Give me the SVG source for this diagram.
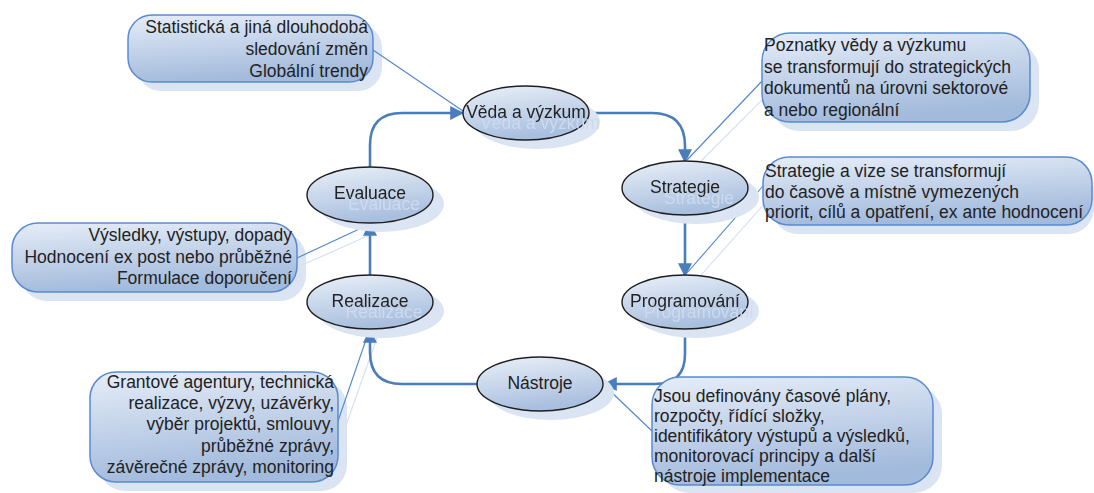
<svg xmlns="http://www.w3.org/2000/svg" width="1094" height="493" viewBox="0 0 1094 493">
<defs>
<linearGradient id="gBox" x1="0" y1="0" x2="0.25" y2="1">
<stop offset="0" stop-color="#e6edf8"/>
<stop offset="1" stop-color="#a2badc"/>
</linearGradient>
<linearGradient id="gEll" x1="0" y1="0" x2="0.3" y2="1">
<stop offset="0" stop-color="#eaf0f8"/>
<stop offset="1" stop-color="#a9bfdf"/>
</linearGradient>
<filter id="ghost" x="-30%" y="-80%" width="180%" height="280%">
<feFlood flood-color="#ccdaef"/>
<feComposite in2="SourceAlpha" operator="in"/>
<feOffset dx="14" dy="11" result="sh"/>
<feMerge><feMergeNode in="sh"/><feMergeNode in="SourceGraphic"/></feMerge>
</filter>
<marker id="arr" viewBox="0 0 12 12" refX="11" refY="6" markerWidth="14" markerHeight="14" markerUnits="userSpaceOnUse" orient="auto">
<path d="M0,0 L12,6 L0,12 Z" fill="#4a7ebb"/>
</marker>
</defs>
<style>
text{font-family:"Liberation Sans",Arial,sans-serif;font-size:17.5px;fill:#222}
.g{filter:url(#ghost)}
.c text{text-anchor:middle}
.r text{text-anchor:end}
.boxsh{fill:#dae4f2}
.box{fill:url(#gBox);stroke:#5a8bd0;stroke-width:1.5}
.ellsh{fill:#dae4f2}
.ell{fill:url(#gEll);stroke:#1e1e1e;stroke-width:1.4}
.thick{fill:none;stroke:#4a7ebb;stroke-width:2.6}
.thin{fill:none;stroke:#4f86cf;stroke-width:1.1}
.thinsh{fill:none;stroke:#d4e0f1;stroke-width:1.1}
</style>
<rect width="1094" height="493" fill="#ffffff"/>

<g id="callouts-shadows">
<rect class="boxsh" x="137" y="24" width="245" height="67" rx="24"/>
<rect class="boxsh" x="771" y="42" width="268" height="89" rx="28"/>
<rect class="boxsh" x="772" y="166" width="322" height="68" rx="26"/>
<rect class="boxsh" x="21" y="232" width="285" height="69" rx="26"/>
<rect class="boxsh" x="99" y="381" width="248" height="110" rx="26"/>
<rect class="boxsh" x="661" y="386" width="281" height="107" rx="28"/>
</g>

<g id="connectors">
<line class="thinsh" x1="766" y1="96" x2="694" y2="168"/>
<line class="thinsh" x1="766" y1="202" x2="694" y2="283"/>
<line class="thinsh" x1="300" y1="266" x2="372" y2="234"/>
<line class="thinsh" x1="345" y1="428" x2="377" y2="338"/>
<line class="thin" x1="373" y1="50" x2="463" y2="111"/>
<line class="thin" x1="763" y1="80" x2="687" y2="160"/>
<line class="thin" x1="763" y1="186" x2="687" y2="273"/>
<line class="thin" x1="297" y1="258" x2="370" y2="224"/>
<line class="thin" x1="338" y1="421" x2="369" y2="331"/>
<line class="thin" x1="653" y1="432" x2="605" y2="386"/>
<path class="thick" d="M370,167 L370,145 Q370,113 402,113 L463,113" marker-end="url(#arr)"/>
<path class="thick" d="M589,113 L652,113 Q685,113 685,146 L685,162" marker-end="url(#arr)"/>
<path class="thick" d="M685,215 L685,276" marker-end="url(#arr)"/>
<path class="thick" d="M685,329 L685,354 Q685,384 655,384 L604,384" marker-end="url(#arr)"/>
<path class="thick" d="M477,384 L402,384 Q370,384 370,352 L370,330" marker-end="url(#arr)"/>
<path class="thick" d="M370,275 L370,223" marker-end="url(#arr)"/>
</g>

<g id="n-veda" class="c">
<ellipse class="ellsh" cx="537" cy="122" rx="63" ry="27"/>
<ellipse class="ell" cx="526" cy="113" rx="63" ry="27"/>
<text class="g" x="526" y="118">Věda a výzkum</text>
</g>
<g id="n-strategie" class="c">
<ellipse class="ellsh" cx="696" cy="197" rx="63" ry="27"/>
<ellipse class="ell" cx="685" cy="188" rx="63" ry="27"/>
<text class="g" x="685" y="193">Strategie</text>
</g>
<g id="n-programovani" class="c">
<ellipse class="ellsh" cx="696" cy="311" rx="63" ry="27"/>
<ellipse class="ell" cx="685" cy="302" rx="63" ry="27"/>
<text class="g" x="685" y="307">Programování</text>
</g>
<g id="n-nastroje" class="c">
<ellipse class="ellsh" cx="551" cy="393" rx="63" ry="27"/>
<ellipse class="ell" cx="540" cy="384" rx="63" ry="27"/>
<text x="540" y="389">Nástroje</text>
</g>
<g id="n-realizace" class="c">
<ellipse class="ellsh" cx="381" cy="311" rx="63" ry="27"/>
<ellipse class="ell" cx="370" cy="302" rx="63" ry="27"/>
<text class="g" x="370" y="307">Realizace</text>
</g>
<g id="n-evaluace" class="c">
<ellipse class="ellsh" cx="381" cy="204" rx="63" ry="28"/>
<ellipse class="ell" cx="370" cy="195" rx="63" ry="28"/>
<text class="g" x="370" y="199">Evaluace</text>
</g>

<g id="c-statisticka" class="r">
<rect class="box" x="128" y="15" width="245" height="67" rx="24"/>
<text x="368" y="33">Statistická a jiná dlouhodobá</text>
<text x="368" y="55">sledování změn</text>
<text x="368" y="77">Globální trendy</text>
</g>
<g id="c-poznatky">
<rect class="box" x="762" y="33" width="268" height="89" rx="28"/>
<text x="764" y="51">Poznatky vědy a výzkumu</text>
<text x="764" y="72.5">se transformují do strategických</text>
<text x="764" y="94">dokumentů na úrovni sektorové</text>
<text x="764" y="115.5">a nebo regionální</text>
</g>
<g id="c-strategie">
<rect class="box" x="763" y="157" width="329" height="68" rx="26"/>
<text x="765" y="177">Strategie a vize se transformují</text>
<text x="765" y="197.5">do časově a místně vymezených</text>
<text x="765" y="218">priorit, cílů a opatření, ex ante hodnocení</text>
</g>
<g id="c-vysledky" class="r">
<rect class="box" x="12" y="223" width="285" height="69" rx="26"/>
<text x="292" y="241">Výsledky, výstupy, dopady</text>
<text x="292" y="262.5">Hodnocení ex post nebo průběžné</text>
<text x="292" y="284">Formulace doporučení</text>
</g>
<g id="c-grantove" class="r">
<rect class="box" x="90" y="372" width="248" height="110" rx="26"/>
<text x="334" y="388">Grantové agentury, technická</text>
<text x="334" y="409">realizace, výzvy, uzávěrky,</text>
<text x="334" y="430">výběr projektů, smlouvy,</text>
<text x="334" y="452">průběžné zprávy,</text>
<text x="334" y="473">závěrečné zprávy, monitoring</text>
</g>
<g id="c-jsou">
<rect class="box" x="652" y="377" width="281" height="108" rx="28"/>
<text x="654" y="402">Jsou definovány časové plány,</text>
<text x="654" y="422">rozpočty, řídící složky,</text>
<text x="654" y="442">identifikátory výstupů a výsledků,</text>
<text x="654" y="462">monitorovací principy a další</text>
<text x="654" y="482">nástroje implementace</text>
</g>
</svg>
